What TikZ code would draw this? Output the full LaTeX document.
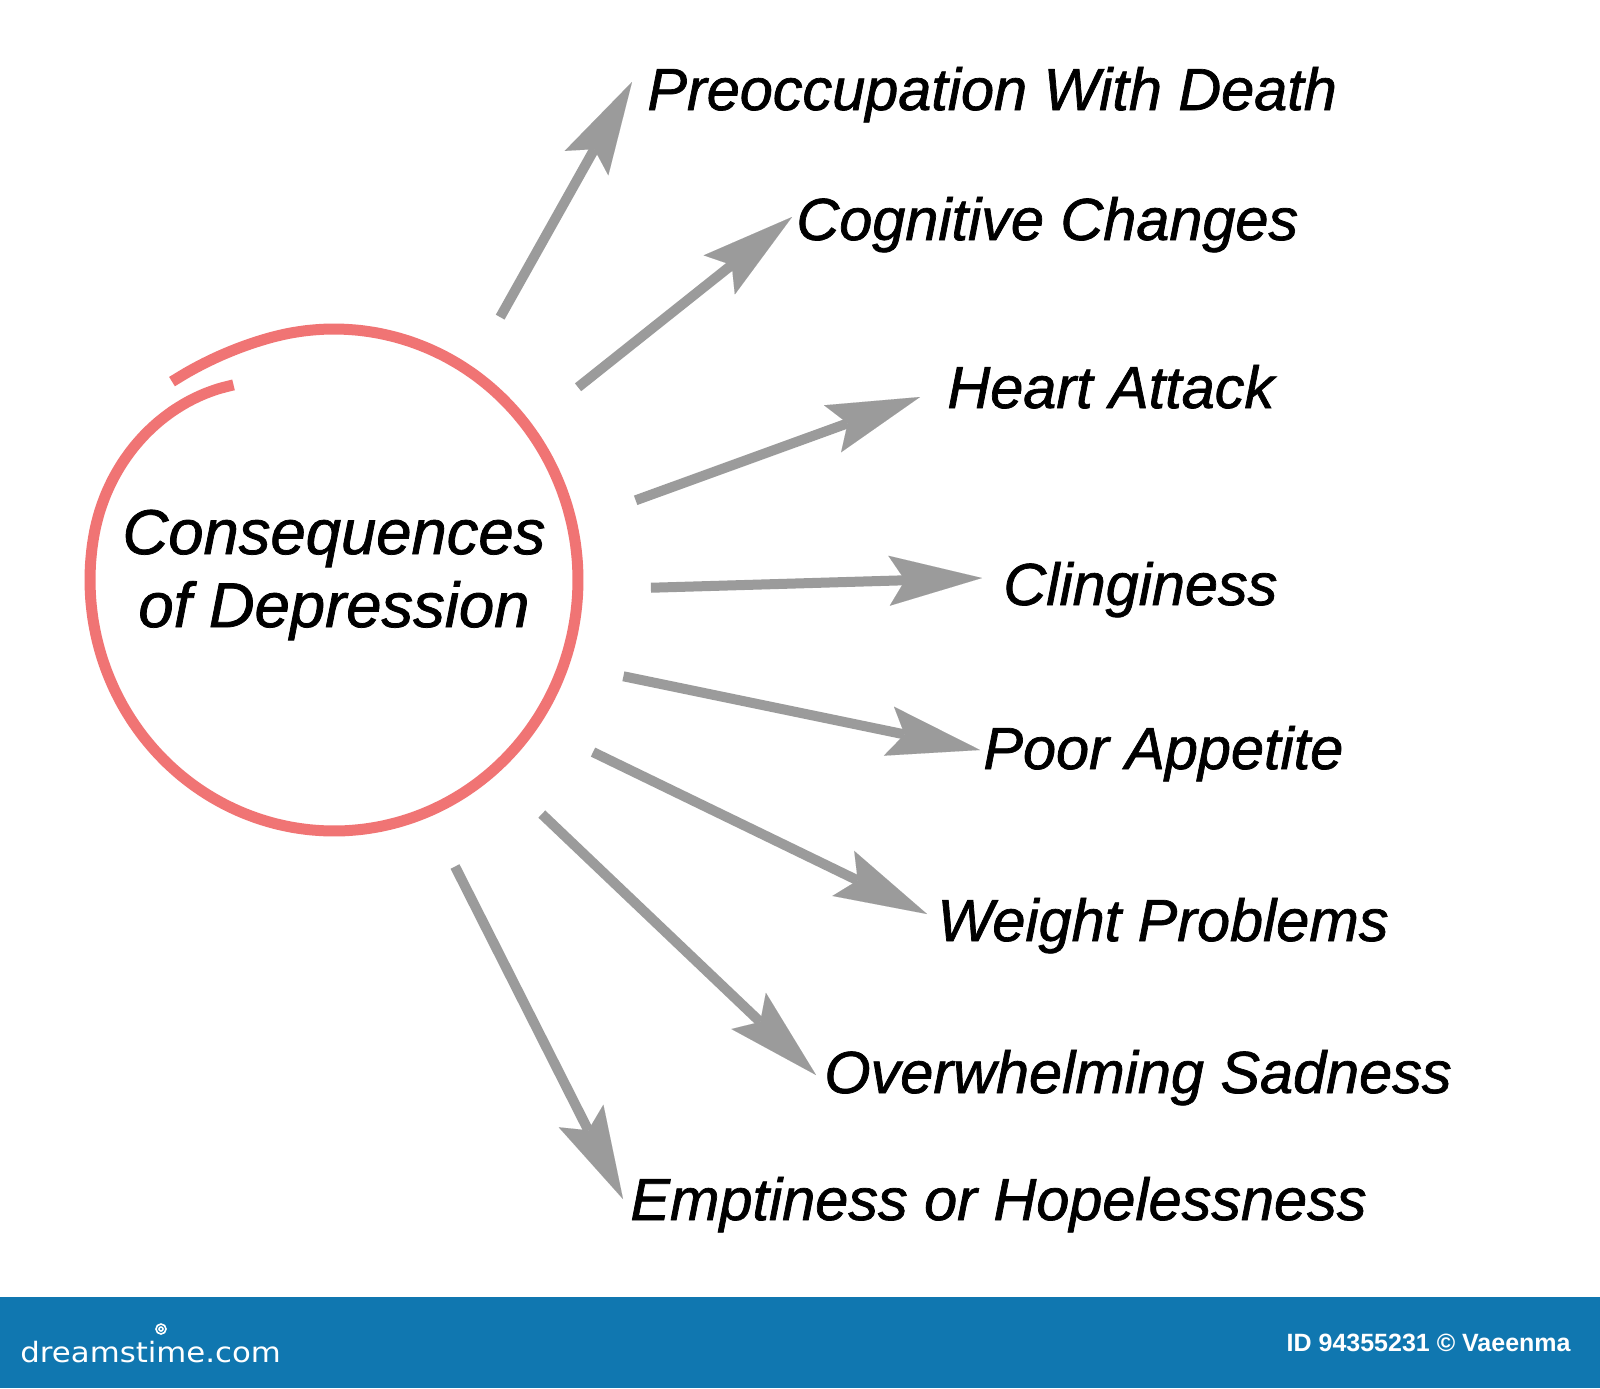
\documentclass[tikz,border=0pt]{standalone}
\usepackage{fontspec}
\setmainfont{Liberation Sans}
\newfontfamily\labelfont[FakeBold=1.2]{Liberation Sans}
\newfontfamily\logofont[FakeStretch=1.1]{DejaVu Sans}
\usetikzlibrary{arrows.meta}
\definecolor{ringred}{RGB}{240,116,116}
\definecolor{linkgray}{RGB}{155,155,155}
\definecolor{bannerblue}{RGB}{16,119,176}
\tikzset{
	effect/.style={
		anchor=base west,
		inner sep=0pt,
		font=\labelfont\fontsize{29.7}{36}\selectfont\itshape,
	},
	hubtext/.style={
		align=center,
		inner sep=0pt,
		font=\labelfont\fontsize{31.7}{36.5}\selectfont\itshape,
	},
	ring/.style={
		draw=ringred,
		line width=5.5pt,
	},
	link/.style={
		-{Stealth[length=46.5pt,width=25pt,inset=8pt,line width=0.01pt]},
		draw=linkgray,
		line width=5pt,
	},
	banner/.style={
		inner sep=0pt,
		text=white,
	},
}

\begin{document}
\begin{tikzpicture}[x=0.5pt,y=-0.5pt]
	\useasboundingbox[fill=white] (0,0) rectangle (1600,1388);

	% centre
	\node [circle, minimum size=250pt, inner sep=0pt] (hub) at (334,580) {};
	\node [hubtext] (title) at (334,575) {Consequences\\of Depression};
	\draw [ring, shift={(hub.center)}] plot [domain=-130:242, samples=90, smooth]
		({(244+8*pow(max(0,(-105-\x)/25),2)-30*pow(max(0,(\x-190)/52),2))*cos(\x)},
		 {(251+8*pow(max(0,(-105-\x)/25),2)-30*pow(max(0,(\x-190)/52),2))*sin(\x)});

	% consequences
	\node [effect] (death) at (647,110) {Preoccupation With Death};
	\node [effect] (cognit) at (796,240) {Cognitive Changes};
	\node [effect] (heart) at (947,408) {Heart Attack};
	\node [effect] (cling) at (1003,605) {Clinginess};
	\node [effect] (appetite) at (983,769) {Poor Appetite};
	\node [effect] (weight) at (937,941) {Weight Problems};
	\node [effect] (sadness) at (824,1093) {Overwhelming Sadness};
	\node [effect] (empty) at (630,1220) {Emptiness or Hopelessness};

	% arrow ends
	\path (hub.center) ++(-57.7:311) coordinate (s1);
	\path (hub.center) ++(-38.3:311) coordinate (s2);
	\path (hub.center) ++(-14.8:312) coordinate (s3);
	\path (hub.center) ++(1.4:317) coordinate (s4);
	\path (hub.center) ++(18.4:305) coordinate (s5);
	\path (hub.center) ++(33.6:311) coordinate (s6);
	\path (hub.center) ++(48.4:313) coordinate (s7);
	\path (hub.center) ++(67.1:311) coordinate (s8);

	\coordinate (e1) at ([shift={(-15,-28)}]death.base west);
	\coordinate (e2) at ([shift={(-4,-23)}]cognit.base west);
	\coordinate (e3) at ([shift={(-27,-11)}]heart.base west);
	\coordinate (e4) at ([shift={(-21,-27)}]cling.base west);
	\coordinate (e5) at ([shift={(-3,-19)}]appetite.base west);
	\coordinate (e6) at ([shift={(-10,-27)}]weight.base west);
	\coordinate (e7) at ([shift={(-8,-18)}]sadness.base west);
	\coordinate (e8) at ([shift={(-7,-21)}]empty.base west);

	\draw[link] (s1) -- (e1);
	\draw[link] (s2) -- (e2);
	\draw[link] (s3) -- (e3);
	\draw[link] (s4) -- (e4);
	\draw[link] (s5) -- (e5);
	\draw[link] (s6) -- (e6);
	\draw[link] (s7) -- (e7);
	\draw[link] (s8) -- (e8);

	% footer
	\fill [bannerblue] (0,1297) rectangle (1600,1388);
	\node [banner, anchor=base west, font=\logofont\fontsize{14}{14}\selectfont] (logo) at (20,1362) {dreamstime.com};
	\draw [white, line width=0.8pt] (161,1329) circle [radius=5] (161,1329) circle [radius=2];
	\node [banner, anchor=base east, font=\fontsize{12.5}{13}\selectfont\bfseries] (credit) at (1571,1351) {ID 94355231 © Vaeenma};
\end{tikzpicture}
\end{document}
